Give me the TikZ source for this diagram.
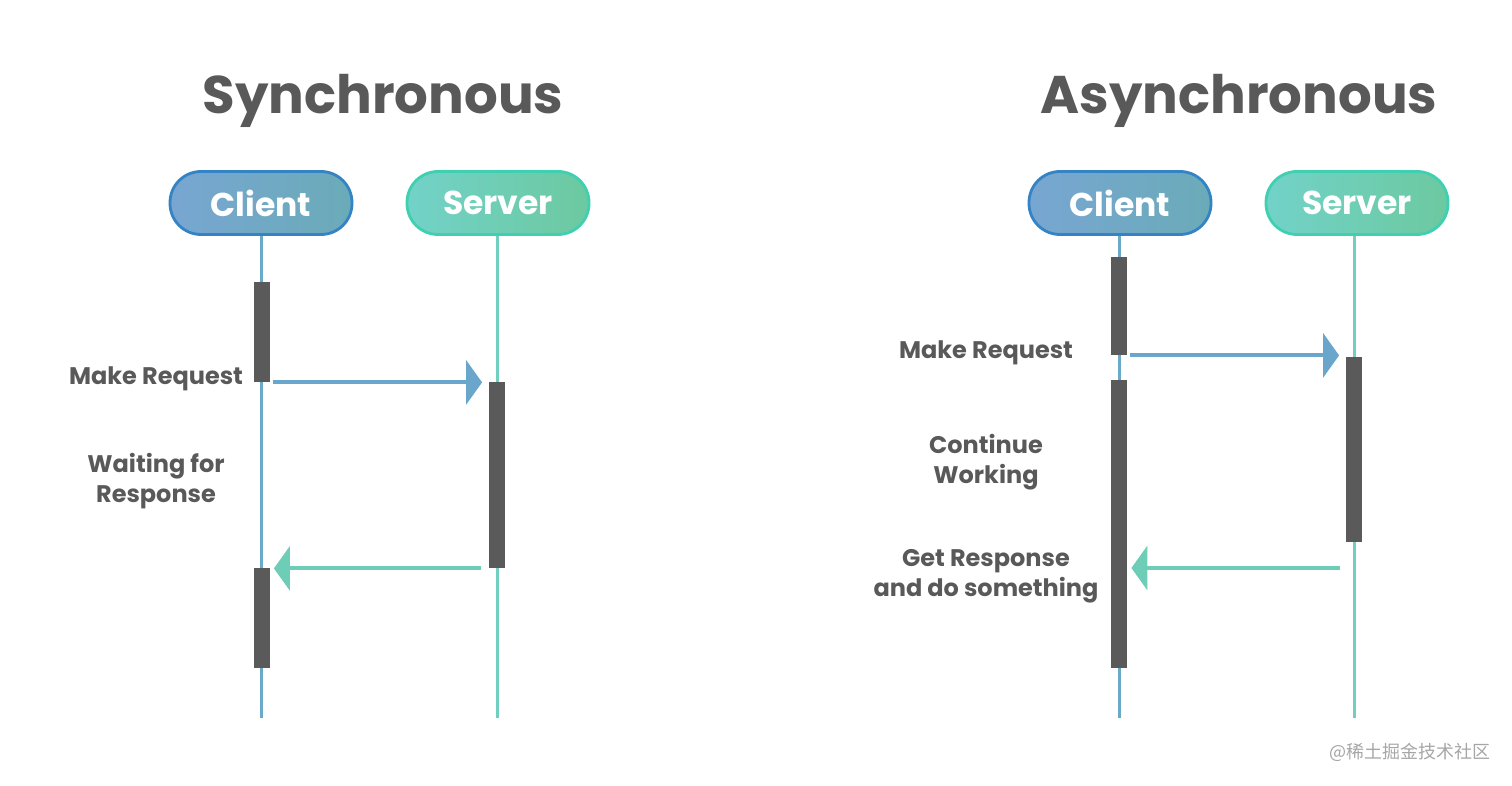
\documentclass[tikz,border=0pt]{standalone}
\usepackage{fontspec}
\setmainfont{Poppins}
\newfontfamily\cjkfont{Noto Sans CJK SC}
\usetikzlibrary{arrows.meta}

\definecolor{txtgray}{HTML}{595959}
\definecolor{bargray}{HTML}{5A5A5A}
\definecolor{cliborder}{HTML}{3483C4}
\definecolor{clileft}{HTML}{78A6D2}
\definecolor{cliright}{HTML}{6AABB8}
\definecolor{srvborder}{HTML}{3ED0B0}
\definecolor{srvleft}{HTML}{72D2C8}
\definecolor{srvright}{HTML}{6CC9A0}
\definecolor{cliline}{HTML}{6AAAC8}
\definecolor{srvline}{HTML}{70CFBF}
\definecolor{reqcol}{HTML}{6AA6CC}
\definecolor{respcol}{HTML}{6ECDB6}

\begin{document}
\begin{tikzpicture}
    [
        x=0.5pt,y=-0.5pt,
        title/.style={text=txtgray,font=\fontsize{26.5}{30}\selectfont\bfseries},
        actor/.style={rectangle,rounded corners=15.5pt,minimum width=91pt,
            minimum height=31.5pt,line width=1.4pt,text=white,
            font=\fontsize{16.5}{18}\selectfont\bfseries},
        client/.style={actor,draw=cliborder,left color=clileft,right color=cliright},
        server/.style={actor,draw=srvborder,left color=srvleft,right color=srvright},
        lifeline/.style={line width=1.5pt},
        bar/.style={rectangle,fill=bargray,minimum width=8pt,inner sep=0pt},
        label/.style={text=txtgray,align=center,font=\fontsize{12}{15}\selectfont\bfseries},
        req/.style={draw=reqcol,line width=2pt,-{Triangle[length=8pt,width=22pt]}},
        resp/.style={draw=respcol,line width=2pt,-{Triangle[length=8pt,width=22pt]}},
    ]
    \useasboundingbox (0,0) rectangle (1512,786);
    % The titles
    \node[title] (tSync) at (383,101) {Synchronous};
    \node[title] (tAsync) at (1239,101) {Asynchronous};

    % Synchronous: actors and lifelines
    \node[client] (cliS) at (261,203) {Client};
    \node[server] (srvS) at (498,203) {Server};
    \coordinate (cliSend) at (261,718);
    \coordinate (srvSend) at (497,718);
    \draw[lifeline,cliline] (cliS) -- (cliSend);
    \draw[lifeline,srvline] (srvS.south -| srvSend) -- (srvSend);
    % Synchronous: activation bars
    \node[bar,minimum height=50pt] (cbarS1) at (261.5,332) {};
    \node[bar,minimum height=93pt] (sbarS) at (496.5,475) {};
    \node[bar,minimum height=50pt] (cbarS2) at (261.5,618) {};
    % Synchronous: messages
    \draw[req] ([xshift=1.5pt]cbarS1.south east) -- ([xshift=-3pt]sbarS.west |- cbarS1.south);
    \draw[resp] ([xshift=-3.5pt]sbarS.south west) -- ([xshift=2pt]cbarS2.east |- sbarS.south);
    \node[label,anchor=east] (mkS) at (250,379) {Make Request};
    \node[label] (waitS) at (156,481) {Waiting for\\Response};

    % Asynchronous: actors and lifelines
    \node[client] (cliA) at (1120,203) {Client};
    \node[server] (srvA) at (1357,203) {Server};
    \coordinate (cliAend) at (1119,718);
    \coordinate (srvAend) at (1354,718);
    \draw[lifeline,cliline] (cliA.south -| cliAend) -- (cliAend);
    \draw[lifeline,srvline] (srvA.south -| srvAend) -- (srvAend);
    % Asynchronous: activation bars
    \node[bar,minimum height=49pt] (cbarA1) at (1119,306) {};
    \node[bar,minimum height=144pt] (cbarA2) at (1119,524) {};
    \node[bar,minimum height=92.5pt] (sbarA) at (1353.5,449.5) {};
    % Asynchronous: messages
    \coordinate (respA) at (1340,568);
    \draw[req] ([xshift=1.5pt]cbarA1.south east) -- ([xshift=-3pt]sbarA.west |- cbarA1.south);
    \draw[resp] (respA) -- ([xshift=2pt]cbarA2.east |- respA);
    \node[label] (mkA) at (986,353) {Make Request};
    \node[label] (contA) at (986,462) {Continue\\Working};
    \node[label] (getA) at (986,576) {Get Response\\and do something};

    % The watermark
    \node[text=black!35,font=\cjkfont\fontsize{9}{10}\selectfont] (wm) at (1410,752) {@稀土掘金技术社区};
\end{tikzpicture}
\end{document}
